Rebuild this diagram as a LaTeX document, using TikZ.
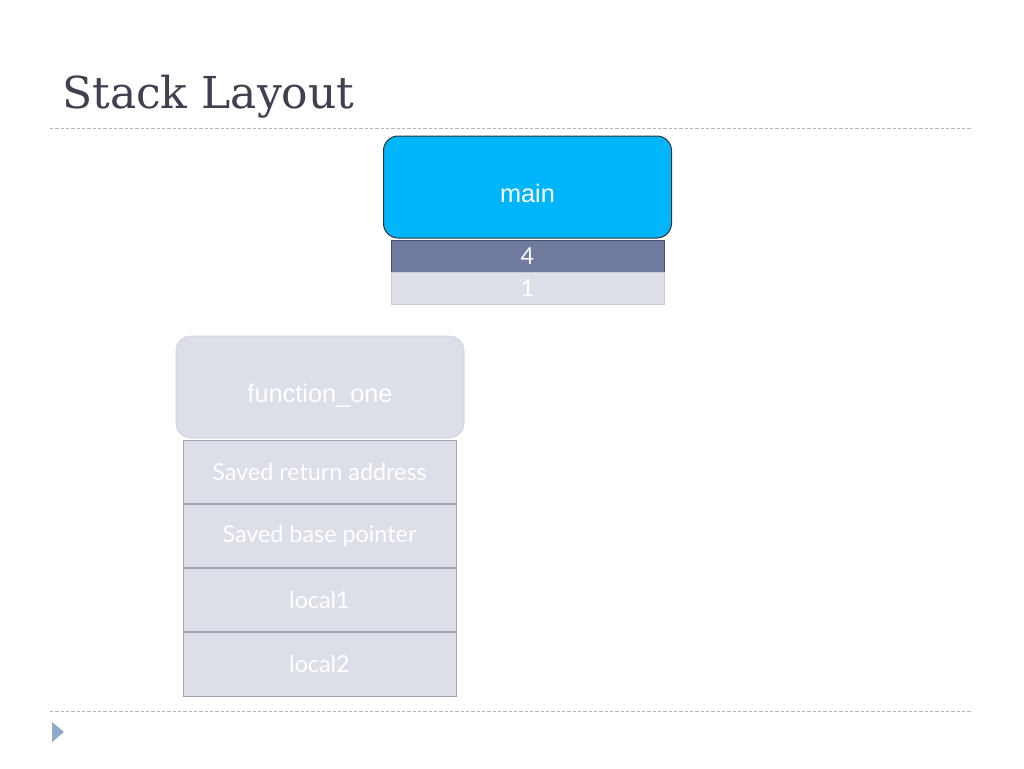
\documentclass[tikz,border=0pt]{standalone}
\usepackage{fontspec}
\usepackage{tikz}
\usetikzlibrary{positioning}
\newfontfamily\titlefont{DejaVu Serif}
\newfontfamily\arialfont{Liberation Sans}
\newfontfamily\gillfont{Lato}

\definecolor{mainblue}{RGB}{0,181,250}
\definecolor{slate}{RGB}{111,122,158}
\definecolor{slateedge}{RGB}{74,80,112}
\definecolor{pale}{RGB}{220,223,232}
\definecolor{paleedge}{RGB}{200,204,216}
\definecolor{cellline}{RGB}{160,164,180}
\definecolor{ruleclr}{RGB}{175,184,198}
\definecolor{bulletclr}{RGB}{143,170,204}
\definecolor{titleclr}{RGB}{64,64,80}

\tikzset{
  frame/.style={rounded corners=11pt, minimum width=216pt, minimum height=76.5pt,
    inner sep=0pt, outer sep=0pt, text height=22.5pt, text depth=0pt, text=white,
    font=\arialfont\fontsize{19}{22}\selectfont},
  cell/.style={minimum width=204.75pt, inner sep=0pt, outer sep=0pt, text=white,
    font=\gillfont\fontsize{17.5}{20}\selectfont},
  rule/.style={ruleclr, line width=0.75pt, dash pattern=on 2.5pt off 1.5pt}
}

\begin{document}
\begin{tikzpicture}[x=0.75pt,y=-0.75pt]
  \useasboundingbox[fill=white] (0,0) rectangle (1024,768);
  % Title and rules
  \node[anchor=base west, inner sep=0pt, text=titleclr,
    font=\titlefont\fontsize{33}{36}\selectfont] (title) at (62,108) {Stack Layout};
  \draw[rule] (50,128) -- (972,128);
  \draw[rule] (50,711) -- (972,711);
  \fill[bulletclr] (52,722) -- (64,732) -- (52,742) -- cycle;
  % main frame
  \node[frame, draw=black!80, fill=mainblue, line width=0.75pt] (mainframe) at (527.5,187) {main};
  \node[cell, draw=slateedge, fill=slate, minimum height=24pt, below=1.5pt of mainframe] (cellfour) {4};
  \node[cell, draw=paleedge, fill=pale, minimum height=24pt, below=0pt of cellfour] (cellone) {1};
  % function_one frame
  \node[frame, draw=paleedge, fill=pale] (fnframe) at (320,387) {function\_one};
  \coordinate (fntop) at (319.5,440);
  \foreach \name/\txt [count=\i from 0] in {retaddr/Saved return address, basept/Saved base pointer,
      localone/local1, localtwo/local2} {
    \node[cell, fill=pale, minimum height=48pt, anchor=north] (\name) at ([yshift=-48*\i pt]fntop) {\txt};
  }
  \draw[cellline, line width=0.75pt] (retaddr.north west) rectangle (localtwo.south east);
  \foreach \a/\b in {retaddr/basept, basept/localone, localone/localtwo}
    \draw[cellline, line width=1.2pt] (\a.south west) -- (\a.south east);
\end{tikzpicture}
\end{document}
